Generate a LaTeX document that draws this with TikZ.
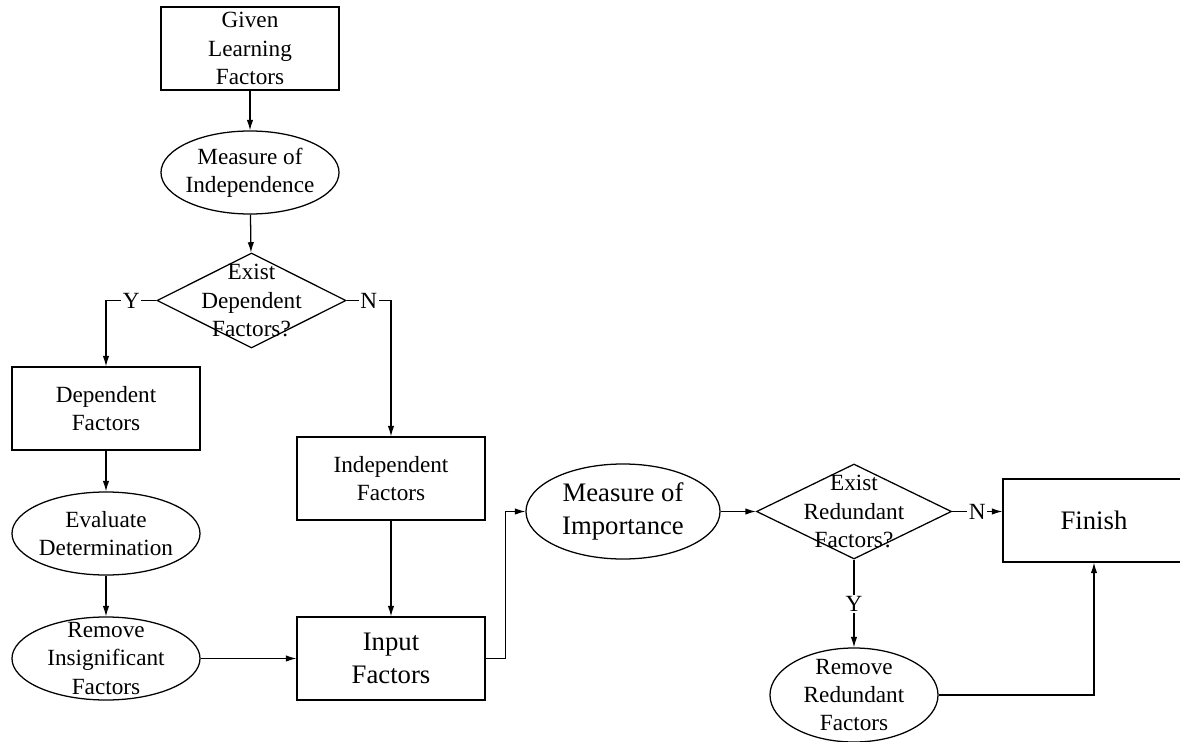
\documentclass[tikz,border=0pt]{standalone}
\usepackage{fontspec}
\setmainfont{Liberation Serif}
\usepackage{tikz}
\usetikzlibrary{shapes, arrows, positioning, calc, arrows.meta}

\tikzset{
    box/.style={draw, rectangle, line width=0.9pt, inner sep=0pt, align=center,
                font=\fontsize{16.5}{20}\selectfont},
    bigbox/.style={box, font=\fontsize{19}{23}\selectfont},
    oval/.style={draw, ellipse, line width=0.9pt, inner xsep=-3pt, inner ysep=-8pt, align=center,
                 font=\fontsize{16.5}{20}\selectfont},
    bigoval/.style={oval, font=\fontsize{19}{23}\selectfont},
    decide/.style={draw, diamond, line width=0.9pt, inner sep=0pt},
    txt/.style={align=center, inner sep=0pt, font=\fontsize{16.5}{20}\selectfont},
    yn/.style={fill=white, inner sep=1pt, font=\fontsize{16.5}{20}\selectfont},
    flow/.style={line width=0.9pt, -{Latex[length=2.6mm,width=1.6mm]}},
}

\begin{document}
\begin{tikzpicture}[x=0.025cm, y=-0.025cm]
    \useasboundingbox (0,0) rectangle (1180,742);

    % Left part: independence check
    \node[box, minimum width=4.45cm, minimum height=2.075cm] (given) at (250,48.5) {Given\\Learning\\Factors};
    \node[oval, minimum width=4.45cm, minimum height=2.075cm] (mind) at (250,172.5) {Measure of\\Independence};
    \node[decide, minimum width=4.725cm, minimum height=2.375cm] (q1) at (251.5,300.5) {};
    \node[txt] (q1t) at (q1) {Exist\\Dependent\\Factors?};

    \node[box, minimum width=4.7cm, minimum height=2.075cm] (dep) at (106,408.5) {Dependent\\Factors};
    \node[oval, minimum width=4.7cm, minimum height=2.075cm] (eval) at (106,533.5) {Evaluate\\Determination};
    \node[oval, minimum width=4.7cm, minimum height=2.075cm] (rmins) at (106,658.5) {Remove\\Insignificant\\Factors};

    \node[box, minimum width=4.7cm, minimum height=2.075cm] (indep) at (391,478.5) {Independent\\Factors};
    \node[bigbox, minimum width=4.7cm, minimum height=2.075cm] (inp) at (391,658.5) {Input\\Factors};

    % Right part: redundancy check
    \node[bigoval, minimum width=4.85cm, minimum height=2.375cm] (mimp) at (623,511.5) {Measure of\\Importance};
    \node[decide, minimum width=4.875cm, minimum height=2.375cm] (q2) at (854,511.5) {};
    \node[txt] (q2t) at (q2) {Exist\\Redundant\\Factors?};
    \node[bigbox, minimum width=4.55cm, minimum height=2.075cm] (fin) at (1094,520.5) {Finish};
    \node[oval, minimum width=4.2cm, minimum height=2.35cm] (rmred) at (854,695) {Remove\\Redundant\\Factors};

    % Connectors
    \draw[flow] (given) -- (mind);
    \draw[flow] (mind) -- (q1);
    \draw[flow] (q1.west) -| node[yn, pos=0.25] {Y} (dep.north);
    \draw[flow] (q1.east) -| node[yn, pos=0.25] {N} (indep.north);
    \draw[flow] (dep) -- (eval);
    \draw[flow] (eval) -- (rmins);
    \draw[flow] (rmins) -- (inp);
    \draw[flow] (indep) -- (inp);
    \draw[flow] (inp.east) -- ++(20,0) |- (mimp.west);
    \draw[flow] (mimp) -- (q2);
    \draw[flow] (q2.east) -- node[yn] {N} (q2.east -| fin.west);
    \draw[flow] (q2.south) -- node[yn] {Y} (rmred.north);
    \draw[flow] (rmred.east) -| (fin.south);
\end{tikzpicture}
\end{document}
